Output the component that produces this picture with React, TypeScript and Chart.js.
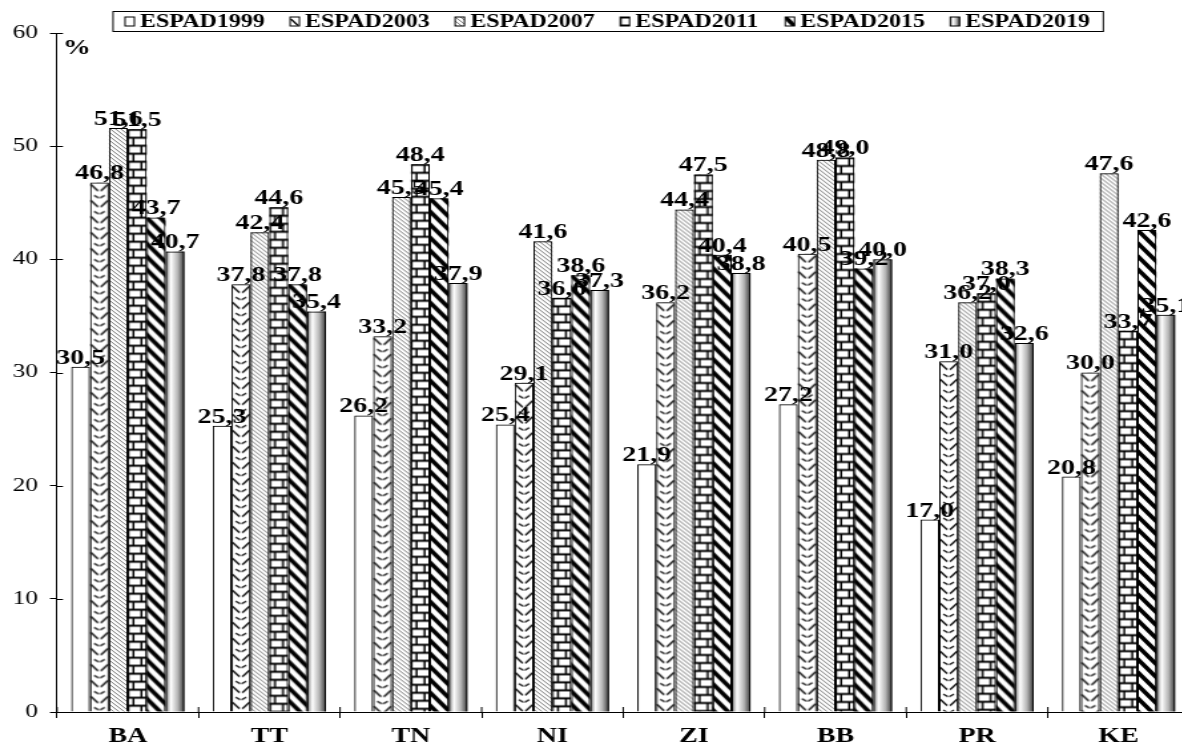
import React, { useEffect, useRef } from "react";
import { Chart, registerables } from "chart.js";

Chart.register(...registerables);

// ---------- data ----------
const categories = ["BA", "TT", "TN", "NI", "ZI", "BB", "PR", "KE"];
const seriesLabels = ["ESPAD1999", "ESPAD2003", "ESPAD2007", "ESPAD2011", "ESPAD2015", "ESPAD2019"];
const espad1999 = [30.5, 25.3, 26.2, 25.4, 21.9, 27.2, 17.0, 20.8];
const espad2003 = [46.8, 37.8, 33.2, 29.1, 36.2, 40.5, 31.0, 30.0];
const espad2007 = [51.6, 42.4, 45.5, 41.6, 44.4, 48.8, 36.2, 47.6];
const espad2011 = [51.5, 44.6, 48.4, 36.6, 47.5, 49.0, 37.0, 33.7];
const espad2015 = [43.7, 37.8, 45.4, 38.6, 40.4, 39.2, 38.3, 42.6];
const espad2019 = [40.7, 35.4, 37.9, 37.3, 38.8, 40.0, 32.6, 35.1];
const yTicks = [0, 10, 20, 30, 40, 50, 60];
const unitLabel = "%";

// ---------- layout / style ----------
const S = 1.33; // horizontal stretch of the reference picture
const LW = 902; // logical canvas width
const H = 755;
const FONT = '"Liberation Serif", "Times New Roman", serif';

function makeTile(w: number, h: number, draw: (g: CanvasRenderingContext2D, w: number, h: number) => void) {
  const c = document.createElement("canvas");
  c.width = w;
  c.height = h;
  const g = c.getContext("2d")!;
  draw(g, w, h);
  return c;
}

const tile2003 = makeTile(14, 16, (g, w, h) => {
  g.fillStyle = "#fff";
  g.fillRect(0, 0, w, h);
  g.strokeStyle = "#000";
  g.lineWidth = 1.3;
  g.beginPath();
  g.moveTo(0.5, 2);
  g.lineTo(6, 8.5);
  g.moveTo(8, 8.5);
  g.lineTo(13.5, 2);
  g.moveTo(3, 13);
  g.lineTo(6.5, 15.5);
  g.moveTo(7.5, 15.5);
  g.lineTo(11, 13);
  g.stroke();
});

const tile2007 = makeTile(4, 4, (g, w, h) => {
  g.fillStyle = "#fff";
  g.fillRect(0, 0, w, h);
  g.strokeStyle = "#777";
  g.lineWidth = 1;
  g.beginPath();
  g.moveTo(-1, -1);
  g.lineTo(5, 5);
  g.moveTo(-1, 3);
  g.lineTo(1, 5);
  g.moveTo(3, -1);
  g.lineTo(5, 1);
  g.stroke();
});

const tile2011 = makeTile(14, 16, (g, w, h) => {
  g.fillStyle = "#000";
  g.fillRect(0, 0, w, h);
  g.fillStyle = "#fff";
  g.fillRect(1.2, 1.5, 8.3, 6);
  g.fillRect(11, 1.5, 3, 6);
  g.fillRect(0, 9.5, 3.5, 6);
  g.fillRect(5, 9.5, 9, 6);
});

const tile2015 = makeTile(10, 13, (g, w, h) => {
  g.fillStyle = "#fff";
  g.fillRect(0, 0, w, h);
  g.strokeStyle = "#000";
  g.lineWidth = 3.6;
  g.beginPath();
  for (const o of [-w, 0, w]) {
    g.moveTo(o - 1, -1.3);
    g.lineTo(o + w + 1, h + 1.3);
  }
  g.stroke();
});

function patternRect(ctx: CanvasRenderingContext2D, tile: HTMLCanvasElement, x: number, y: number, w: number, h: number) {
  const p = ctx.createPattern(tile, "repeat")!;
  ctx.save();
  ctx.translate(x, y);
  ctx.fillStyle = p;
  ctx.fillRect(0, 0, w, h);
  ctx.restore();
}

const fillers: Array<(ctx: CanvasRenderingContext2D, x: number, y: number, w: number, h: number) => void> = [
  (ctx, x, y, w, h) => {
    ctx.fillStyle = "#fff";
    ctx.fillRect(x, y, w, h);
  },
  (ctx, x, y, w, h) => patternRect(ctx, tile2003, x, y, w, h),
  (ctx, x, y, w, h) => patternRect(ctx, tile2007, x, y, w, h),
  (ctx, x, y, w, h) => patternRect(ctx, tile2011, x, y, w, h),
  (ctx, x, y, w, h) => patternRect(ctx, tile2015, x, y, w, h),
  (ctx, x, y, w, h) => {
    const g = ctx.createLinearGradient(x, 0, x + w, 0);
    g.addColorStop(0, "#707070");
    g.addColorStop(0.28, "#ffffff");
    g.addColorStop(0.65, "#b4b4b4");
    g.addColorStop(1, "#383838");
    ctx.fillStyle = g;
    ctx.fillRect(x, y, w, h);
  },
];

const fillsPlugin = {
  id: "barFills",
  beforeDatasetsDraw(chart: any) {
    const ctx = chart.ctx as CanvasRenderingContext2D;
    ctx.save();
    chart.data.datasets.forEach((_: any, di: number) => {
      const meta = chart.getDatasetMeta(di);
      meta.data.forEach((el: any) => {
        const { x, y, base, width } = el.getProps(["x", "y", "base", "width"], true);
        fillers[di](ctx, x - width / 2, Math.min(y, base), width, Math.abs(base - y));
      });
    });
    ctx.restore();
  },
  afterDatasetsDraw(chart: any) {
    const ctx = chart.ctx as CanvasRenderingContext2D;
    ctx.save();
    ctx.fillStyle = "#000";
    ctx.font = `bold 21px ${FONT}`;
    ctx.textAlign = "center";
    ctx.textBaseline = "bottom";
    chart.data.datasets.forEach((ds: any, di: number) => {
      const meta = chart.getDatasetMeta(di);
      meta.data.forEach((el: any, i: number) => {
        const v = ds.data[i] as number;
        ctx.fillText(v.toFixed(1).replace(".", ","), el.x, el.y + 2);
      });
    });
    ctx.restore();
  },
  afterDraw(chart: any) {
    const ctx = chart.ctx as CanvasRenderingContext2D;
    const area = chart.chartArea;
    ctx.save();
    // inner parts of crossing tick marks
    ctx.strokeStyle = "#000";
    ctx.lineWidth = 1;
    ctx.beginPath();
    yTicks.forEach((v) => {
      const yy = Math.round(chart.scales.y.getPixelForValue(v)) + 0.5;
      ctx.moveTo(area.left, yy);
      ctx.lineTo(area.left + 4.5, yy);
    });
    const step = (area.right - area.left) / categories.length;
    for (let i = 0; i <= categories.length; i++) {
      const xx = area.left + i * step;
      ctx.moveTo(xx, area.bottom);
      ctx.lineTo(xx, area.bottom - 5);
    }
    ctx.stroke();
    // unit label
    ctx.fillStyle = "#000";
    ctx.font = `bold 21px ${FONT}`;
    ctx.textAlign = "left";
    ctx.textBaseline = "alphabetic";
    ctx.fillText(unitLabel, area.left + 4.5, 54);
    // legend
    const bx = 113 / S;
    const bw = (1103 - 113) / S;
    const by = 11.5;
    const bh = 20;
    ctx.fillStyle = "#fff";
    ctx.fillRect(bx, by, bw, bh);
    ctx.strokeStyle = "#000";
    ctx.lineWidth = 1;
    ctx.strokeRect(bx, by, bw, bh);
    ctx.font = `bold 18px ${FONT}`;
    ctx.textBaseline = "middle";
    chart.data.datasets.forEach((ds: any, di: number) => {
      const sx = (125 + di * 165) / S;
      const sw = 7;
      const sy = 17;
      const sh = 9;
      fillers[di](ctx, sx, sy, sw, sh);
      ctx.strokeStyle = "#000";
      ctx.strokeRect(sx, sy, sw, sh);
      ctx.fillStyle = "#000";
      ctx.fillText(ds.label, (140 + di * 165) / S, by + bh / 2 + 1);
    });
    ctx.restore();
  },
};

export default function App() {
  const ref = useRef<HTMLCanvasElement>(null);

  useEffect(() => {
    const canvas = ref.current!;
    const seriesData = [espad1999, espad2003, espad2007, espad2011, espad2015, espad2019];
    const chart = new Chart(canvas, {
      type: "bar",
      data: {
        labels: categories,
        datasets: seriesData.map((d, i) => ({
          label: seriesLabels[i],
          data: d,
          backgroundColor: "rgba(0,0,0,0)",
          borderColor: "#000",
          borderWidth: 1,
          categoryPercentage: 0.8,
          barPercentage: 1.0,
        })),
      },
      options: {
        responsive: false,
        animation: false,
        devicePixelRatio: 1,
        layout: { padding: { left: 0, right: LW - 1189 / S, top: 33, bottom: 0 } },
        plugins: {
          legend: { display: false },
          tooltip: { enabled: false },
        },
        scales: {
          x: {
            grid: { display: true, drawOnChartArea: false, tickLength: 6, color: "#000", lineWidth: 1, offset: true },
            border: { display: true, color: "#000", width: 1 },
            ticks: {
              color: "#000",
              font: { family: FONT, size: 21, weight: "bold" },
              padding: 6,
              maxRotation: 0,
              autoSkip: false,
            },
            afterFit: (s: any) => {
              s.height = 43;
            },
          },
          y: {
            min: 0,
            max: 60,
            afterBuildTicks: (s: any) => {
              s.ticks = yTicks.map((v) => ({ value: v }));
            },
            grid: { display: true, drawOnChartArea: false, tickLength: 5.3, color: "#000", lineWidth: 1 },
            border: { display: true, color: "#000", width: 1 },
            ticks: {
              color: "#000",
              font: { family: FONT, size: 19 },
              padding: 9,
            },
            afterFit: (s: any) => {
              s.width = 57 / S;
            },
          },
        },
      } as any,
      plugins: [fillsPlugin as any],
    });
    return () => chart.destroy();
  }, []);

  return (
    <div
      style={{
        position: "fixed",
        left: 0,
        top: 0,
        width: 1182,
        height: 755,
        overflow: "hidden",
        background: "#fff",
      }}
    >
      <canvas
        ref={ref}
        width={LW}
        height={H}
        style={{ width: `${LW * S}px`, height: `${H}px`, display: "block" }}
      />
    </div>
  );
}
